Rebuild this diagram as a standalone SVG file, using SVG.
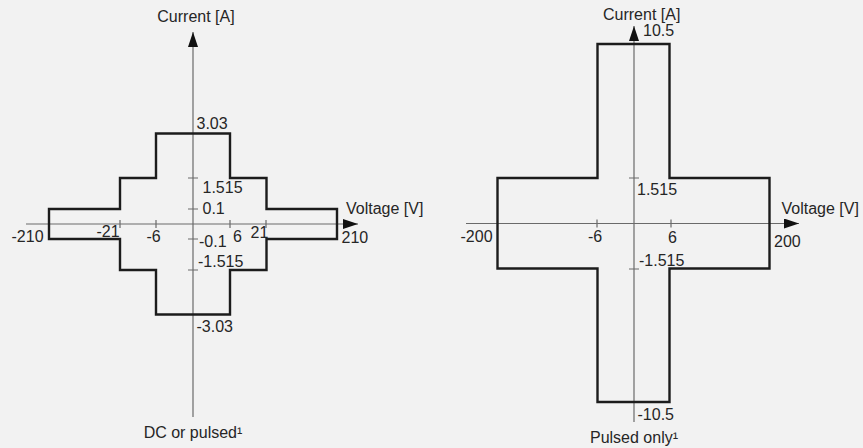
<svg xmlns="http://www.w3.org/2000/svg" width="863" height="448" viewBox="0 0 863 448">
<defs>
<style>
.bg{fill:#f2f2f2}
.axis{stroke:#6a6a6a;stroke-width:1.2;fill:none}
.tick{stroke:#6a6a6a;stroke-width:1.2}
.area{fill:none;stroke:#1c1c1c;stroke-width:2.4;stroke-linejoin:miter}
text{font-family:"Liberation Sans",Arial,sans-serif;font-size:16px;fill:#262626}
</style>
<marker id="arr" markerUnits="userSpaceOnUse" markerWidth="16" markerHeight="11" refX="15" refY="5" orient="auto">
<path d="M0,0 L15,5 L0,10 z" fill="#111"/>
</marker>
</defs>
<rect class="bg" x="0" y="0" width="863" height="448"/>

<g id="chart-dc">
<g id="axes-dc">
<line class="axis" x1="193" y1="417" x2="193" y2="32" marker-end="url(#arr)"/>
<line class="axis" x1="26" y1="224" x2="358" y2="224" marker-end="url(#arr)"/>
<path class="tick" d="M188,178H198M188,209H198M188,239H198M188,270H198M120,220V228M156,220V228M230,220V228M266,220V228"/>
</g>
<path id="soa-dc" class="area" d="M156,133.5H230V178H266.5V209H337V239H266.5V270H230V314.5H156V270H120V239H49V209H120V178H156Z"/>
<g id="labels-dc">
<text x="196" y="22" text-anchor="middle">Current [A]</text>
<text x="196.5" y="128.5">3.03</text>
<text x="202.5" y="193">1.515</text>
<text x="202.5" y="214">0.1</text>
<text x="199" y="247">-0.1</text>
<text x="198" y="267">-1.515</text>
<text x="196.5" y="332">-3.03</text>
<text x="233" y="242">6</text>
<text x="250.5" y="237.5">21</text>
<text x="341.5" y="243">210</text>
<text x="346" y="213.5">Voltage [V]</text>
<text x="11.5" y="242">-210</text>
<text x="96.5" y="237">-21</text>
<text x="146.5" y="242">-6</text>
<text x="193" y="437.5" text-anchor="middle">DC or pulsed¹</text>
</g>
</g>

<g id="chart-pulsed">
<g id="axes-pulsed">
<line class="axis" x1="634" y1="422" x2="634" y2="26" marker-end="url(#arr)"/>
<line class="axis" x1="466" y1="223.5" x2="799" y2="223.5" marker-end="url(#arr)"/>
<path class="tick" d="M629,178H639M629,269H639M597,219.5V227.5M671,219.5V227.5"/>
</g>
<path id="soa-pulsed" class="area" d="M597.5,44H669.5V178H769.5V268.5H669.5V402H597.5V268.5H497.5V178H597.5Z"/>
<g id="labels-pulsed">
<text x="603" y="20">Current [A]</text>
<text x="643" y="36">10.5</text>
<text x="637" y="195">1.515</text>
<text x="639" y="266">-1.515</text>
<text x="637.5" y="420">-10.5</text>
<text x="460.5" y="242">-200</text>
<text x="588" y="242">-6</text>
<text x="668" y="243">6</text>
<text x="774" y="247">200</text>
<text x="781.5" y="214">Voltage [V]</text>
<text x="634" y="443" text-anchor="middle">Pulsed only¹</text>
</g>
</g>
</svg>
